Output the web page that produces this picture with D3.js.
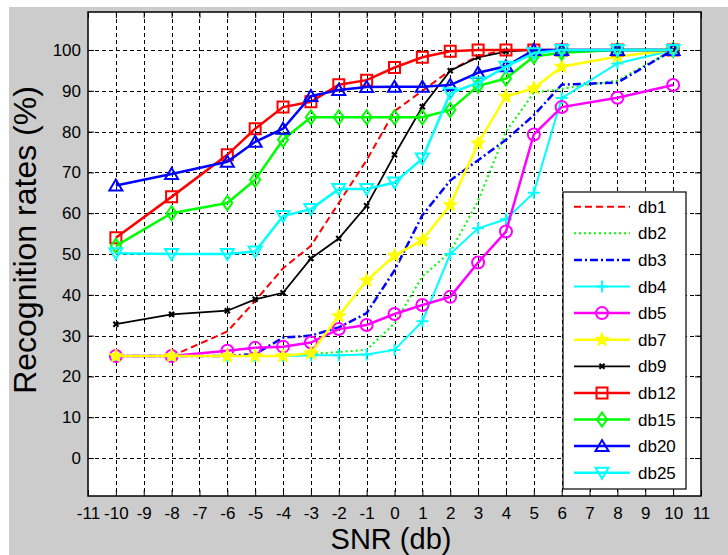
<!DOCTYPE html>
<html>
<head>
<meta charset="utf-8">
<script src="https://cdn.jsdelivr.net/npm/d3@7"></script>
<style>
  body { margin: 0; background: #fff; }
  text { font-family: "Liberation Sans", Arial, sans-serif; fill: #000; }
</style>
</head>
<body>
<div class="chart-container"></div>
<script>
// SNR values (x) shared by every curve
var snr = [-10, -8, -6, -5, -4, -3, -2, -1, 0, 1, 2, 3, 4, 5, 6, 8, 10];

// recognition rates (%)
var db1  = [25, 25, 31, 38.5, 46.5, 52, 62.5, 73, 85, 90, 95, 98.5, 100, 100, 100, 100, 100];
var db2  = [25, 25, 25, 25, 25, 25.5, 26, 26.5, 33, 44.5, 50.5, 63, 80, 89.5, 90.5, 92.5, 100];
var db3  = [25, 25, 25, 25.5, 29.5, 30, 32, 35.5, 46, 59.5, 68, 73, 78, 84, 91.5, 92, 100];
var db4  = [25, 25, 25, 25, 25, 25.2, 25.2, 25.4, 26.5, 33.5, 50, 56.3, 58.5, 65, 88.2, 96.7, 100];
var db5  = [25, 25, 26.3, 27, 27.3, 28.3, 31.6, 32.6, 35.3, 37.5, 39.5, 47.9, 55.5, 79.3, 86, 88.3, 91.4];
var db7  = [25, 25, 25, 25, 25, 25.7, 34.8, 43.5, 49.6, 53.4, 62, 77.1, 88.6, 90.6, 95.9, 98.4, 100];
var db9  = [32.8, 35.2, 36.1, 38.9, 40.5, 48.9, 53.8, 61.8, 74.3, 86.1, 94.9, 98.2, 99.6, 100, 100, 100, 100];
var db12 = [54, 64, 74.3, 80.7, 86, 87.3, 91.5, 92.6, 95.7, 98.2, 99.7, 100, 100, 100, 100, 100, 100];
var db15 = [52, 60, 62.5, 68.2, 78, 83.5, 83.5, 83.5, 83.5, 83.5, 85.3, 91.2, 93, 98.4, 99.3, 100, 100];
var db20 = [66.8, 69.6, 72.6, 77.5, 80.7, 88.7, 90.2, 90.9, 91, 91, 91.4, 94.4, 96, 100, 100, 100, 100];
var db25 = [50.2, 50, 50, 50.6, 59.3, 61, 65.9, 65.9, 67.5, 73.4, 89.4, 92, 95.9, 99.2, 100, 100, 100];

var seriesNames = ['db1', 'db2', 'db3', 'db4', 'db5', 'db7', 'db9', 'db12', 'db15', 'db20', 'db25'];
var seriesValues = [db1, db2, db3, db4, db5, db7, db9, db12, db15, db20, db25];

var xTicks = d3.range(-11, 12);
var yTicks = d3.range(0, 101, 10);

// drawing styles per curve
var styles = {
  db1:  { color: '#ff0000', dash: '7,4', width: 2, marker: null },
  db2:  { color: '#00ff00', dash: '2,3', width: 2, marker: null },
  db3:  { color: '#0000ff', dash: '8,3,2,3', width: 2.5, marker: null },
  db4:  { color: '#00ffff', dash: null, width: 2, marker: 'plus' },
  db5:  { color: '#ff00ff', dash: null, width: 2.5, marker: 'circle' },
  db7:  { color: '#ffff00', dash: null, width: 2.5, marker: 'star' },
  db9:  { color: '#000000', dash: null, width: 1.8, marker: 'x' },
  db12: { color: '#ff0000', dash: null, width: 2.5, marker: 'square' },
  db15: { color: '#00ff00', dash: null, width: 2.5, marker: 'diamond' },
  db20: { color: '#0000ff', dash: null, width: 2.5, marker: 'triUp' },
  db25: { color: '#00ffff', dash: null, width: 2.5, marker: 'triDown' }
};

function markerPath(type) {
  switch (type) {
    case 'square':  return 'M-5.5,-5.5h11v11h-11Z';
    case 'diamond': return 'M0,-7L5,0L0,7L-5,0Z';
    case 'triUp':   return 'M0,-6L6.5,5L-6.5,5Z';
    case 'triDown': return 'M0,6L6.5,-5L-6.5,-5Z';
    case 'plus':    return 'M-6,0H6M0,-6V6';
    case 'x':       return 'M-2.5,-2.5L2.5,2.5M-2.5,2.5L2.5,-2.5';
    case 'circle':  return 'M6,0A6,6 0 1,1 -6,0A6,6 0 1,1 6,0Z';
    case 'star':
      var p = [];
      for (var i = 0; i < 10; i++) {
        var r = i % 2 ? 2.6 : 5.8, a = -Math.PI / 2 + i * Math.PI / 5;
        p.push([r * Math.cos(a), r * Math.sin(a)]);
      }
      return 'M' + p.join('L') + 'Z';
  }
  return '';
}

var W = 728, H = 555;
var plotL = 88, plotR = 701, plotT = 12, plotB = 496;

var svg = d3.select('.chart-container').append('svg')
    .attr('width', W)
    .attr('height', H);

// figure background
svg.append('rect').attr('x', 9).attr('y', 7).attr('width', W - 9).attr('height', H - 7)
    .attr('fill', '#cccccc');
svg.append('rect').attr('x', plotL).attr('y', plotT)
    .attr('width', plotR - plotL).attr('height', plotB - plotT)
    .attr('fill', '#fff');

var x = d3.scaleLinear().domain([-11, 11]).range([plotL, plotR]);
var y = d3.scaleLinear().domain([-9.3, 109.3]).range([plotB, plotT]);

// dashed grid
var grid = svg.append('g').attr('stroke', '#000').attr('stroke-width', 1)
    .attr('stroke-dasharray', '4,3');
grid.selectAll('.gx').data(xTicks.filter(function (d) { return d > -11 && d < 11; }))
  .enter().append('line')
    .attr('x1', function (d) { return Math.round(x(d)) + 0.5; })
    .attr('x2', function (d) { return Math.round(x(d)) + 0.5; })
    .attr('y1', plotT).attr('y2', plotB);
grid.selectAll('.gy').data(yTicks)
  .enter().append('line')
    .attr('y1', function (d) { return Math.round(y(d)) + 0.5; })
    .attr('y2', function (d) { return Math.round(y(d)) + 0.5; })
    .attr('x1', plotL).attr('x2', plotR);

// axes with inward ticks
function styleAxis(g) {
  g.select('.domain').remove();
  g.selectAll('.tick line').attr('stroke', '#000').attr('stroke-width', 1);
  g.selectAll('.tick text').style('font-size', '17px')
    .style('font-family', '"Liberation Sans", Arial, sans-serif').attr('fill', '#000');
}
var fmt = function (d) { return String(d); };

svg.append('g').attr('transform', 'translate(0,' + plotB + ')')
    .call(d3.axisBottom(x).tickValues(xTicks).tickSize(-6).tickPadding(11).tickFormat(fmt))
    .call(styleAxis);
svg.append('g').attr('transform', 'translate(0,' + plotT + ')')
    .call(d3.axisTop(x).tickValues(xTicks).tickSize(-6).tickFormat(''))
    .call(styleAxis);
svg.append('g').attr('transform', 'translate(' + plotL + ',0)')
    .call(d3.axisLeft(y).tickValues(yTicks).tickSize(-6).tickPadding(7).tickFormat(fmt))
    .call(styleAxis);
svg.append('g').attr('transform', 'translate(' + plotR + ',0)')
    .call(d3.axisRight(y).tickValues(yTicks).tickSize(-6).tickFormat(''))
    .call(styleAxis);

// axes box
svg.append('rect').attr('x', plotL).attr('y', plotT)
    .attr('width', plotR - plotL).attr('height', plotB - plotT)
    .attr('fill', 'none').attr('stroke', '#000').attr('stroke-width', 1.5);

// curves
var line = d3.line()
    .x(function (d) { return x(d[0]); })
    .y(function (d) { return y(d[1]); });

var plot = svg.append('g');
seriesNames.forEach(function (name, i) {
  var st = styles[name];
  var pts = snr.map(function (s, j) { return [s, seriesValues[i][j]]; });
  var g = plot.append('g');
  g.append('path').datum(pts)
      .attr('d', line)
      .attr('fill', 'none')
      .attr('stroke', st.color)
      .attr('stroke-width', st.width)
      .attr('stroke-dasharray', st.dash);
  if (st.marker) {
    g.selectAll('.m').data(pts).enter().append('path')
        .attr('transform', function (d) { return 'translate(' + x(d[0]) + ',' + y(d[1]) + ')'; })
        .attr('d', markerPath(st.marker))
        .attr('fill', st.marker === 'star' ? st.color : 'none')
        .attr('stroke', st.color)
        .attr('stroke-width', st.marker === 'x' ? 2.2 : 2);
  }
});

// axis titles
svg.append('text')
    .attr('x', 391).attr('y', 549)
    .attr('text-anchor', 'middle')
    .style('font-size', '29px')
    .text('SNR (db)');
svg.append('text')
    .attr('transform', 'translate(36,240) rotate(-90)')
    .attr('text-anchor', 'middle')
    .style('font-size', '32px')
    .text('Recognition rates (%)');

// legend
var legend = svg.append('g').attr('transform', 'translate(563,192)');
legend.append('rect').attr('x', 0).attr('y', 0).attr('width', 123).attr('height', 297)
    .attr('fill', '#fff').attr('stroke', '#000').attr('stroke-width', 1.2);
seriesNames.forEach(function (name, i) {
  var st = styles[name];
  var yy = 14.7 + i * 26.6;
  var row = legend.append('g').attr('transform', 'translate(0,' + yy + ')');
  row.append('line').attr('x1', 11).attr('x2', 67).attr('y1', 0).attr('y2', 0)
      .attr('stroke', st.color).attr('stroke-width', st.width)
      .attr('stroke-dasharray', st.dash);
  if (st.marker) {
    row.append('path').attr('transform', 'translate(39,0)')
        .attr('d', markerPath(st.marker))
        .attr('fill', st.marker === 'star' ? st.color : 'none')
        .attr('stroke', st.color)
        .attr('stroke-width', st.marker === 'x' ? 2.2 : 2);
  }
  row.append('text').attr('x', 75).attr('dy', '0.36em')
      .style('font-size', '17px')
      .text(name);
});
</script>
</body>
</html>
